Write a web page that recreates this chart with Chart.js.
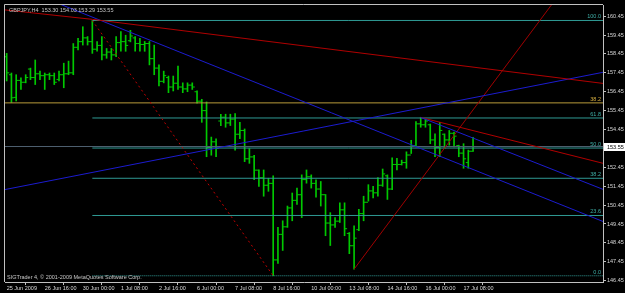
<!DOCTYPE html>
<html>
<head>
<meta charset="utf-8">
<script src="https://cdn.jsdelivr.net/npm/chart.js@4.4.0/dist/chart.umd.min.js"></script>
<style>
  html, body { margin: 0; padding: 0; background: #000; }
  canvas { display: block; }
</style>
</head>
<body>
<canvas id="chart" width="625" height="293"></canvas>
<script>
// GBPJPY H4 bars, 25 Jun 08:00 .. 17 Jul 16:00 2009
const opens = [158.30,157.35,156.15,157.05,156.95,157.65,157.20,157.40,157.30,157.35,
  157.30,157.10,157.35,157.40,157.45,158.80,159.10,159.30,159.10,158.70,
  158.90,158.40,158.55,158.40,159.05,159.10,159.15,159.30,159.00,158.95,
  159.00,158.20,157.70,157.00,157.20,156.70,156.90,156.70,156.60,156.80,
  156.45,155.95,155.45,153.50,153.80,154.90,155.10,154.80,155.00,154.20,
  154.40,152.90,153.00,152.30,151.90,151.50,151.60,147.55,148.90,149.30,
  150.30,150.70,151.00,151.80,151.95,151.60,151.30,151.00,149.50,149.40,
  149.60,150.20,148.95,148.30,149.15,150.00,150.60,151.20,151.10,151.50,
  152.00,151.30,152.60,152.60,152.70,153.10,153.60,154.75,154.70,154.70,
  153.90,153.50,154.20,153.90,154.25,153.60,153.20,152.70,153.30];
const highs = [158.48,157.44,157.35,157.18,157.35,157.70,158.13,157.54,157.44,157.44,
  157.44,157.54,157.96,158.07,159.00,159.27,159.89,159.37,160.22,159.11,
  159.37,158.74,158.74,159.37,159.63,159.44,159.70,159.37,159.27,159.11,
  159.11,158.92,157.87,157.54,157.28,157.28,157.81,156.92,156.92,156.92,
  156.50,156.05,155.91,154.05,153.96,155.26,155.26,155.26,155.30,154.83,
  154.48,153.44,153.09,152.31,152.31,151.87,152.00,149.27,149.62,150.40,
  151.09,151.35,152.05,152.31,152.05,151.79,151.70,151.01,150.05,149.79,
  150.57,150.57,149.00,149.35,150.23,150.92,151.53,151.44,151.91,152.36,
  152.05,152.95,152.92,152.83,153.27,153.88,154.87,155.09,155.00,154.74,
  154.22,154.83,154.22,154.40,154.31,153.62,153.70,153.36,154.03];
const lows = [157.02,155.88,155.96,156.57,156.92,157.09,156.83,157.09,156.57,157.09,
  156.83,157.02,156.66,157.35,157.35,158.66,158.92,158.92,158.48,158.59,
  158.13,158.22,158.13,158.31,158.59,158.59,159.09,158.59,158.59,158.59,
  157.87,157.35,156.76,156.92,156.40,156.49,156.57,156.40,156.45,156.57,
  155.84,154.83,153.01,153.09,153.01,154.66,154.57,154.66,153.36,153.96,
  152.75,152.66,151.79,151.44,150.92,151.18,146.71,147.36,148.05,149.27,
  149.62,150.49,149.79,151.61,151.35,150.87,150.40,148.83,148.31,149.27,
  149.53,148.83,147.88,147.06,149.09,149.62,150.66,150.83,150.92,151.44,
  150.75,151.27,152.31,152.57,152.40,153.18,153.53,154.57,154.57,153.70,
  153.01,153.01,153.44,153.62,153.53,153.01,152.40,152.40,153.29];
const closes = [157.45,156.13,157.05,156.95,157.20,157.20,157.40,157.30,157.35,157.30,
  156.95,157.35,157.40,157.45,158.80,159.10,159.30,159.10,158.70,158.90,
  158.40,158.55,158.40,159.05,159.10,158.90,159.40,159.00,158.95,159.00,
  158.20,157.70,157.00,157.30,156.70,156.90,156.70,156.60,156.80,156.70,
  155.95,155.45,153.50,153.80,153.45,155.10,154.80,155.00,154.20,154.40,
  152.90,153.00,152.30,151.90,151.50,151.60,147.55,148.90,149.30,150.30,
  150.70,151.00,151.80,151.95,151.60,151.30,151.00,149.50,149.40,149.60,
  150.20,149.20,148.30,148.70,150.00,150.60,151.20,151.10,151.50,152.10,
  151.30,152.60,152.60,152.70,153.10,153.60,154.75,154.70,154.90,153.90,
  153.50,154.40,153.90,154.25,154.10,153.20,152.90,153.30,153.55];

const timeTickBars = [0, 8, 16, 24, 32, 40, 48, 56, 64, 72, 80, 88, 96];
const timeLabels = ['25 Jun 2009', '26 Jun 16:00', '30 Jun 00:00', '1 Jul 08:00', '2 Jul 16:00',
  '6 Jul 00:00', '7 Jul 08:00', '8 Jul 16:00', '10 Jul 00:00', '13 Jul 08:00',
  '14 Jul 16:00', '16 Jul 00:00', '17 Jul 08:00'];
const priceTicks = [146.45, 147.45, 148.45, 149.45, 150.45, 151.45, 152.45, 153.45,
  154.45, 155.45, 156.45, 157.45, 158.45, 159.45, 160.45];

// fibonacci retracement (peak 30 Jun -> low 8 Jul)
const fibLabels = ['100.0', '61.8', '50.0', '38.2', '23.6', '0.0'];
const fibPrices = [160.22, 155.06, 153.47, 151.87, 149.90, 146.71];
const fibStartBar = 18;
const goldFibLabel = '38.2';
const goldFibPrice = 155.86;

// trend lines as [bar, price] points
const redTopLine = [[-0.35, 160.78], [18.04, 160.28], [125.3, 156.89]];
const blueFallLine = [[10.06, 161.20], [125.33, 149.58]];
const blueChannelLine = [[87, 155.09], [125.33, 151.28]];
const redHighLine = [[87, 155.09], [125.33, 152.66]];
const blueRiseLine = [[-0.4, 151.27], [125.33, 157.48]];
const redDottedLine = [[18, 160.22], [56, 146.71]];
const redRiseLine = [[73, 147.06], [116, 161.56]];

const bidPrice = 153.55;
const symbolTitle = 'GBPJPY,H4  153.30 154.03 153.29 153.55';
const footerText = 'SIGTrader 4, \u00a9 2001-2009 MetaQuotes Software Corp.';

const xMin = -0.35, xMax = 125.3;
const yMin = 146.38, yMax = 161.04;

const FONT = 'Liberation Sans';
const barGreen = '#00c800';
const fibTeal = '#2f9a94';
const axisGray = '#c0c0c0';

function pts(arr) { return arr.map(p => ({x: p[0], y: p[1]})); }
function trend(arr, color, dash, order) {
  return {type: 'line', data: pts(arr), borderColor: color, borderWidth: 1,
    borderDash: dash || [], pointRadius: 0, order: order || 2, tension: 0};
}

const datasets = [];
datasets.push({
  type: 'bar', data: highs.map((h, i) => ({x: i, y: [lows[i], h]})),
  backgroundColor: barGreen, barThickness: 1, grouped: false, order: 10
});
datasets.push({
  type: 'line', data: opens.map((o, i) => ({x: i - 0.3, y: o})), showLine: false,
  pointStyle: 'line', pointRadius: 1.1, pointBorderColor: barGreen, pointBorderWidth: 1, order: 9
});
datasets.push({
  type: 'line', data: closes.map((c, i) => ({x: i + 0.3, y: c})), showLine: false,
  pointStyle: 'line', pointRadius: 1.1, pointBorderColor: barGreen, pointBorderWidth: 1, order: 9
});
fibPrices.forEach((p, k) => {
  datasets.push(trend([[fibStartBar, p], [xMax + 1, p]], fibTeal, k === 5 ? [1, 1] : [], 5));
});
datasets.push(trend([[xMin - 1, goldFibPrice], [xMax + 1, goldFibPrice]], '#b89a3a', [], 5));
datasets.push(trend([[xMin - 1, bidPrice], [xMax + 1, bidPrice]], '#4e6070', [], 4));
datasets.push(trend(redTopLine, '#b00000'));
datasets.push(trend(blueFallLine, '#1c1cd0'));
datasets.push(trend(blueChannelLine, '#1c1cd0'));
datasets.push(trend(redHighLine, '#b00000'));
datasets.push(trend(blueRiseLine, '#1c1cd0'));
datasets.push(trend(redDottedLine, '#c00000', [2, 3]));
datasets.push(trend(redRiseLine, '#a00000'));

const overlay = {
  id: 'overlay',
  beforeDraw(chart) {
    const c = chart.ctx;
    c.save();
    c.fillStyle = '#000';
    c.fillRect(0, 0, chart.width, chart.height);
    c.restore();
  },
  afterDraw(chart) {
    const c = chart.ctx, a = chart.chartArea, ys = chart.scales.y;
    c.save();
    c.strokeStyle = axisGray;
    c.lineWidth = 1;
    c.beginPath();
    c.moveTo(a.left - 0.5, a.bottom);
    c.lineTo(a.left - 0.5, a.top - 0.5);
    c.lineTo(a.right, a.top - 0.5);
    c.stroke();

    c.font = '5.5px "' + FONT + '"';
    c.textAlign = 'right';
    c.textBaseline = 'bottom';
    fibPrices.forEach((p, k) => {
      c.fillStyle = '#3fb0a8';
      c.fillText(fibLabels[k], a.right - 2, ys.getPixelForValue(p) - 1);
    });
    c.fillStyle = '#d8b040';
    c.fillText(goldFibLabel, a.right - 2, ys.getPixelForValue(goldFibPrice) - 1);

    c.textAlign = 'left';
    c.textBaseline = 'middle';
    c.fillStyle = '#c8c8c8';
    c.fillText(symbolTitle, a.left + 4, a.top + 5);
    c.fillText(footerText, a.left + 2, a.bottom - 5);

    const by = Math.round(ys.getPixelForValue(bidPrice));
    c.fillStyle = '#ffffff';
    c.fillRect(a.right + 1, by - 4, chart.width - a.right - 1, 8);
    c.fillStyle = '#000000';
    c.fillText(bidPrice.toFixed(2), a.right + 4, by + 0.5);
    c.restore();
  }
};

new Chart(document.getElementById('chart'), {
  type: 'line',
  data: {datasets},
  options: {
    responsive: false,
    animation: false,
    devicePixelRatio: 1,
    layout: {padding: {left: 2, top: 1, right: 0, bottom: 0}},
    plugins: {legend: {display: false}, tooltip: {enabled: false}},
    scales: {
      x: {
        type: 'linear', position: 'bottom', min: xMin, max: xMax, offset: false,
        grid: {drawOnChartArea: false, drawTicks: true, tickLength: 3, color: axisGray},
        border: {color: axisGray},
        ticks: {
          autoSkip: false, maxRotation: 0, align: 'start', padding: 0,
          color: '#d8d8d8', font: {family: FONT, size: 5.5},
          callback: v => timeLabels[timeTickBars.indexOf(v)]
        },
        afterBuildTicks: s => { s.ticks = timeTickBars.map(v => ({value: v})); },
        afterFit: s => { s.height = 11; s.paddingLeft = 0; s.paddingRight = 0; }
      },
      y: {
        type: 'linear', position: 'right', min: yMin, max: yMax,
        grid: {drawOnChartArea: false, drawTicks: true, tickLength: 3, color: axisGray},
        border: {color: axisGray},
        ticks: {
          padding: 1, color: '#d8d8d8', font: {family: FONT, size: 5.5},
          callback: v => v.toFixed(2)
        },
        afterBuildTicks: s => { s.ticks = priceTicks.map(v => ({value: v})); },
        afterFit: s => { s.width = 22; s.paddingTop = 0; s.paddingBottom = 0; }
      }
    }
  },
  plugins: [overlay]
});
</script>
</body>
</html>
